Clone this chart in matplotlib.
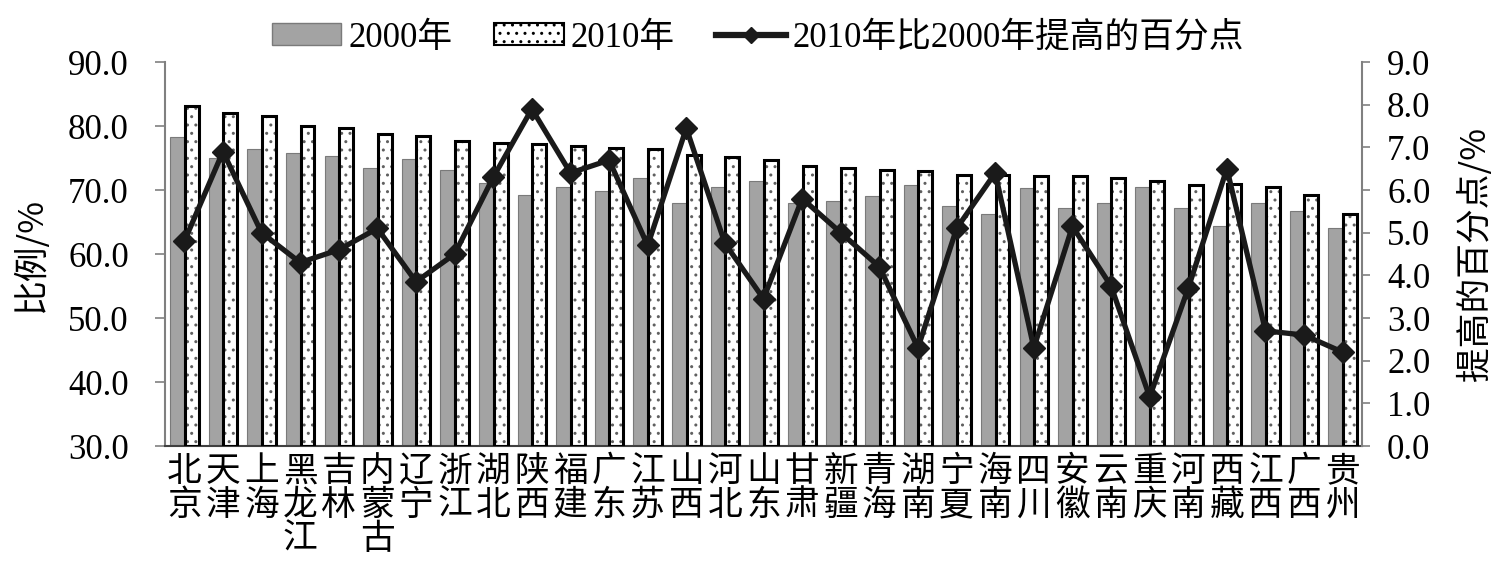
import matplotlib
matplotlib.use("Agg")
import matplotlib.pyplot as plt
import numpy as np
from matplotlib.patches import Patch
from matplotlib.lines import Line2D

plt.rcParams['font.family'] = ['Liberation Serif', 'Noto Sans CJK SC', 'DejaVu Sans']
plt.rcParams['hatch.linewidth'] = 1.0

provinces = ["北京", "天津", "上海", "黑龙江", "吉林", "内蒙古", "辽宁", "浙江", "湖北", "陕西",
             "福建", "广东", "江苏", "山西", "河北", "山东", "甘肃", "新疆", "青海", "湖南",
             "宁夏", "海南", "四川", "安徽", "云南", "重庆", "河南", "西藏", "江西", "广西", "贵州"]
y2000 = [78.3, 75.0, 76.4, 75.8, 75.3, 73.4, 74.8, 73.1, 71.1, 69.2,
         70.5, 69.8, 71.9, 68.0, 70.5, 71.4, 68.0, 68.3, 69.0, 70.8,
         67.5, 66.2, 70.3, 67.2, 68.0, 70.4, 67.2, 64.4, 68.0, 66.7, 64.0]
y2010 = [83.1, 82.0, 81.6, 80.0, 79.7, 78.7, 78.5, 77.7, 77.4, 77.2,
         76.9, 76.6, 76.4, 75.5, 75.2, 74.7, 73.8, 73.4, 73.1, 72.9,
         72.4, 72.4, 72.2, 72.2, 71.9, 71.4, 70.8, 70.9, 70.5, 69.2, 66.3]
increase = [4.8, 6.9, 5.0, 4.3, 4.6, 5.1, 3.85, 4.5, 6.3, 7.9,
            6.4, 6.7, 4.7, 7.45, 4.75, 3.45, 5.8, 5.0, 4.2, 2.3,
            5.1, 6.4, 2.3, 5.15, 3.75, 1.15, 3.7, 6.5, 2.7, 2.6, 2.2]
left_ticks = [30, 40, 50, 60, 70, 80, 90]
right_ticks = [0, 1, 2, 3, 4, 5, 6, 7, 8, 9]

FS = 25
cjk = ['Noto Sans CJK SC', 'DejaVu Sans']

fig = plt.figure(figsize=(15.1, 5.77), dpi=100)
ax = fig.add_axes([0.1093, 0.227, 0.7927, 0.6655])
x = np.arange(len(provinces))
w = 0.36
off = 0.19
gray = '#a3a3a3'
ax.bar(x - off, [v - 30 for v in y2000], bottom=30, width=w, color=gray, edgecolor='#7a7a7a', linewidth=0.8, zorder=2)
ax.bar(x + off, [v - 30 for v in y2010], bottom=30, width=w, color='white', edgecolor='#606060', linewidth=0, hatch='..', zorder=2)
ax.bar(x + off, [v - 30 for v in y2010], bottom=30, width=w, color='none', edgecolor='black', linewidth=2.2, zorder=3)
ax.set_ylim(30, 90)
ax.set_xlim(-0.5, len(provinces) - 0.5)
ax.set_yticks(left_ticks)
ax.set_yticklabels([f"{t:.1f}" for t in left_ticks], fontsize=FS)
ax.set_xticks(x)
ax.set_xticklabels(["\n".join(p) for p in provinces], fontsize=FS, linespacing=0.95,
                   family=cjk, va='top')
ax.tick_params(axis='x', length=0, pad=6)
ax.tick_params(axis='y', length=7, width=1.2, color='#808080', pad=19)
ax.set_ylabel("比例/%", fontsize=FS, family=cjk, labelpad=14)
for s in ['top', 'right']:
    ax.spines[s].set_visible(False)
ax.spines['left'].set_color('#808080')
ax.spines['left'].set_linewidth(1.5)
ax.spines['bottom'].set_color('#404040')
ax.spines['bottom'].set_linewidth(1.5)

ax2 = ax.twinx()
ax2.plot(x, increase, color='#1a1a1a', linewidth=3.8, marker='D', markersize=11, zorder=5)
ax2.set_ylim(0, 9)
ax2.set_yticks(right_ticks)
ax2.set_yticklabels([f"{t:.1f}" for t in right_ticks], fontsize=FS)
ax2.tick_params(axis='y', length=6, width=1.2, color='#808080', pad=12)
ax2.set_ylabel("提高的百分点/%", fontsize=FS, family=cjk, labelpad=20)
for s in ['top', 'left', 'bottom']:
    ax2.spines[s].set_visible(False)
ax2.spines['right'].set_color('#808080')
ax2.spines['right'].set_linewidth(1.5)

handles = [Patch(facecolor=gray, edgecolor='#7a7a7a'),
           Patch(facecolor='white', edgecolor='black', hatch='..', linewidth=1.5),
           Line2D([0], [0], color='#1a1a1a', linewidth=4.5, marker='D', markersize=8)]
labels = ["2000年", "2010年", "2010年比2000年提高的百分点"]
fig.legend(handles, labels, loc='center', bbox_to_anchor=(0.502, 0.934), ncol=3, frameon=False,
           fontsize=FS, handlelength=2.0, handletextpad=0.2, columnspacing=1.2, handleheight=0.6)

fig.savefig("out.png", dpi=100)
